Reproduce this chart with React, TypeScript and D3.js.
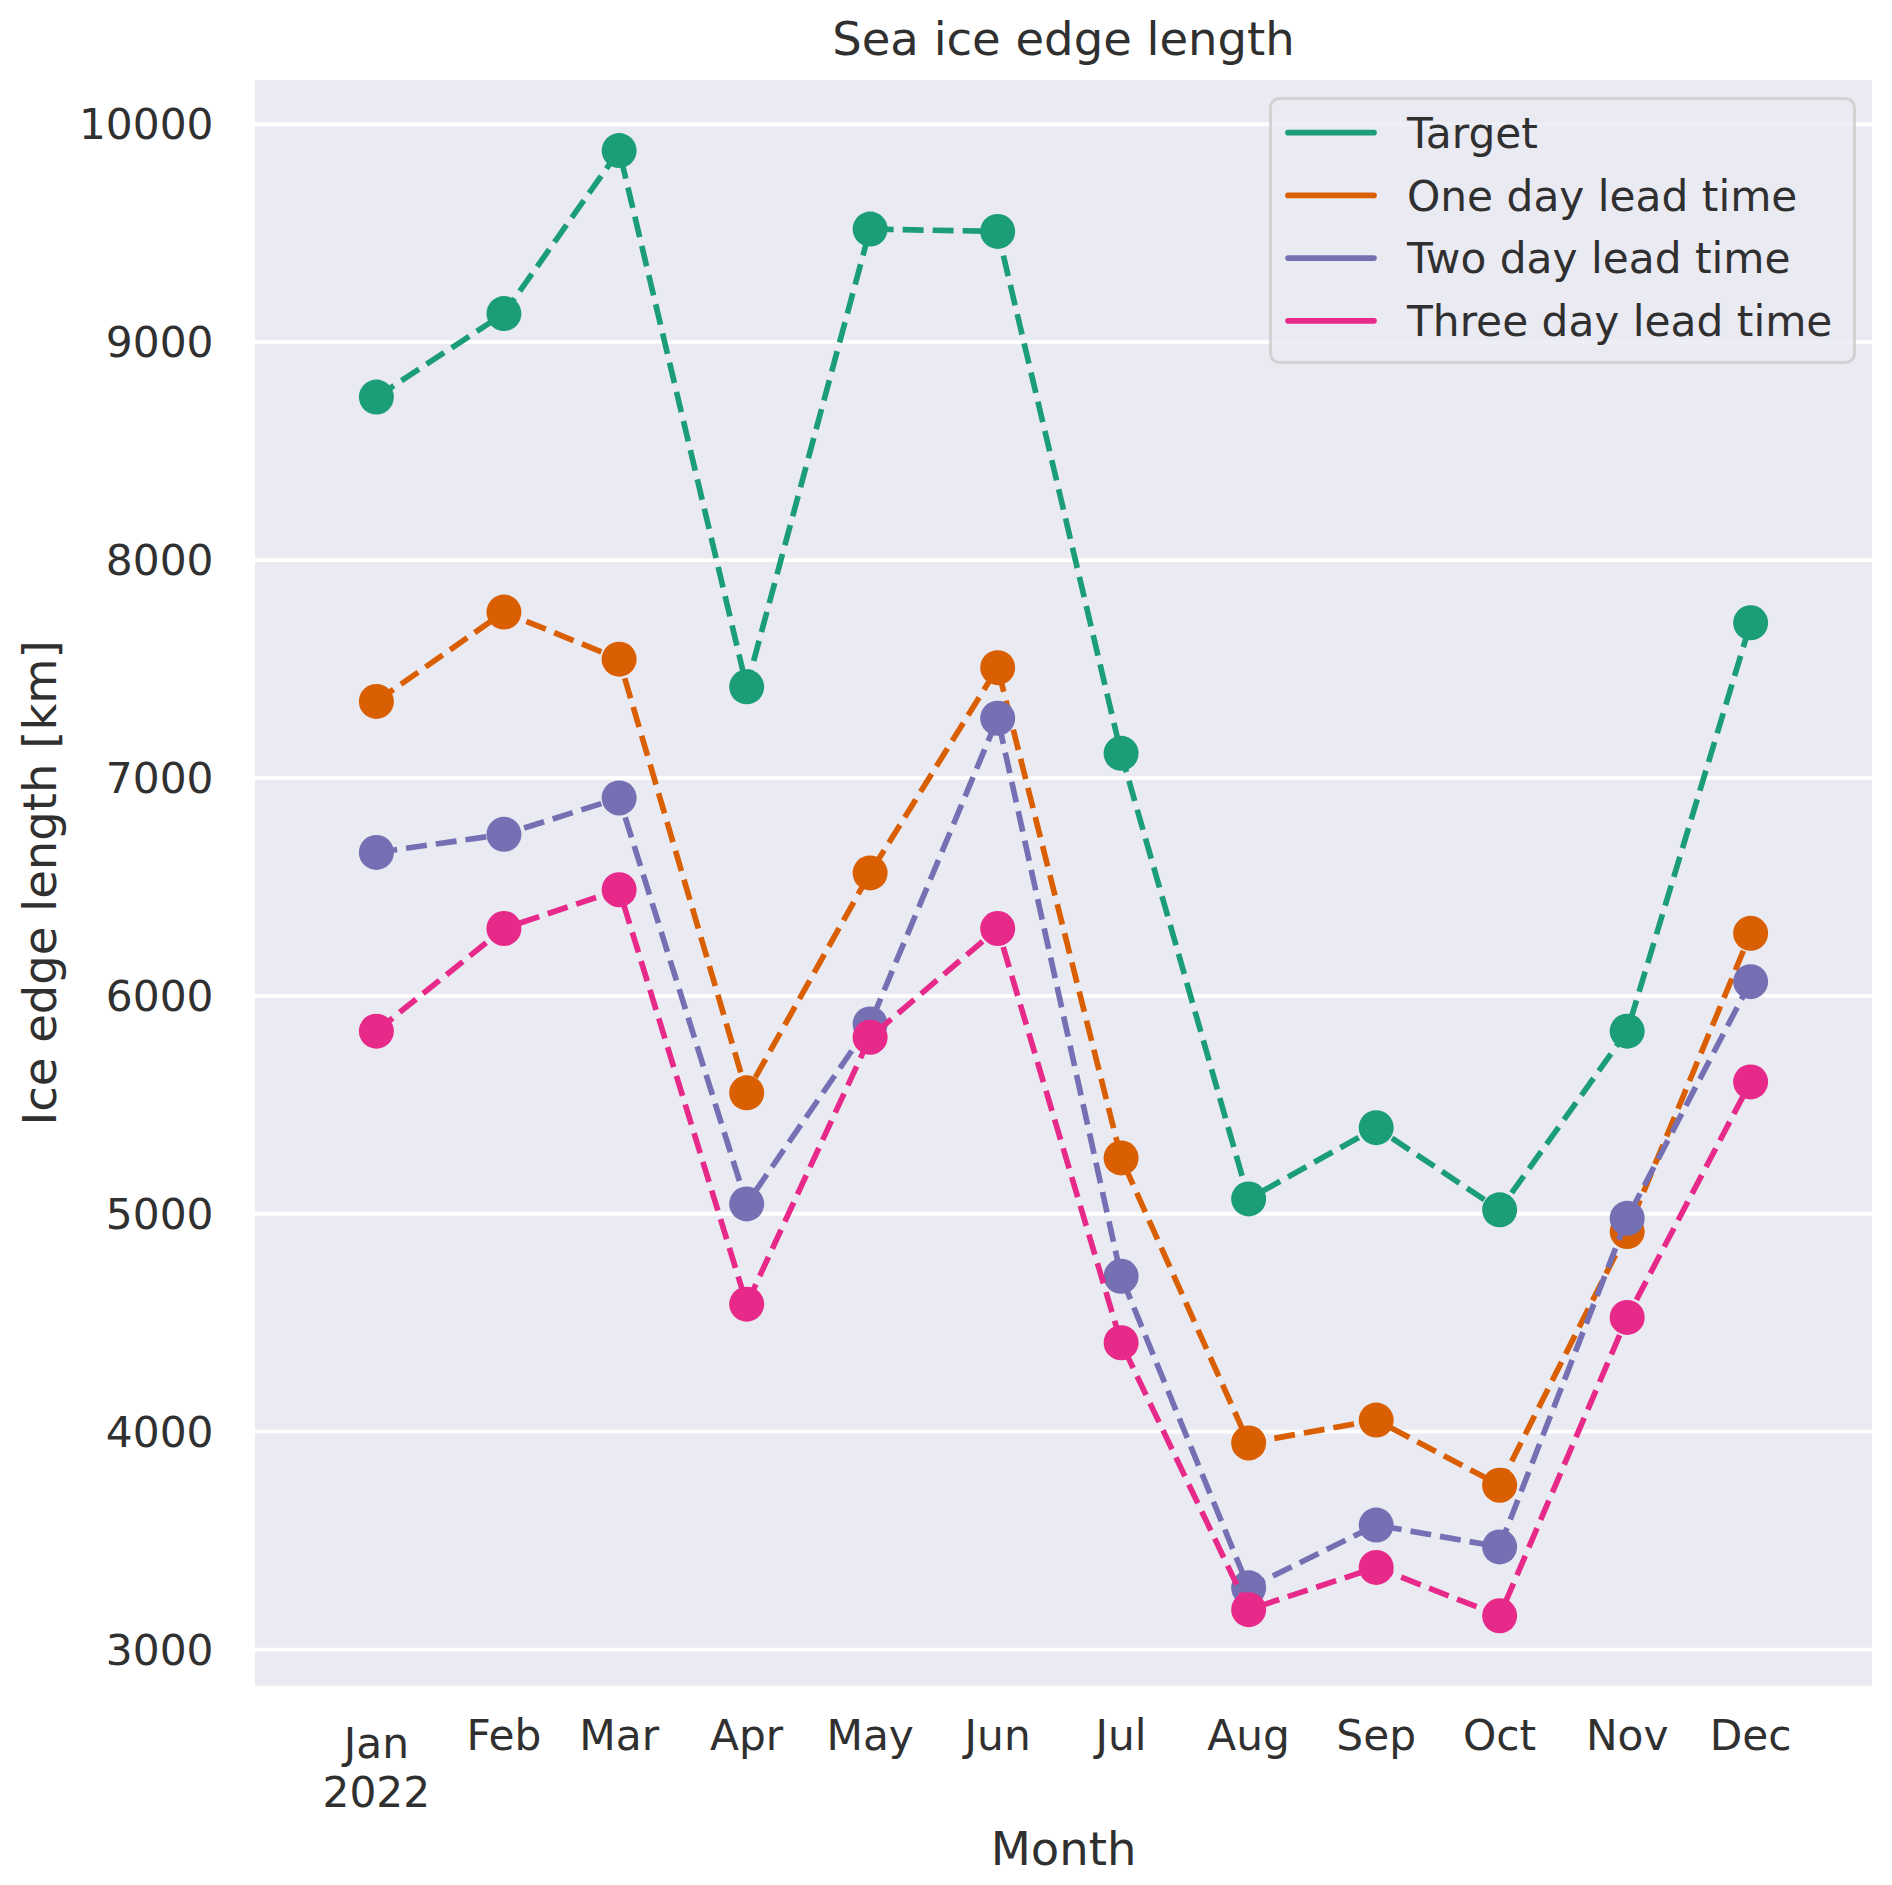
import React from "react";
import * as d3 from "d3";

const months = ["Jan", "Feb", "Mar", "Apr", "May", "Jun", "Jul", "Aug", "Sep", "Oct", "Nov", "Dec"];
const year = 2022;

const target = [8748, 9131, 9879, 7418, 9519, 9508, 7113, 5068, 5395, 5018, 5838, 7712];
const oneDay = [7351, 7761, 7545, 5555, 6564, 7506, 5256, 3948, 4053, 3754, 4918, 6287];
const twoDay = [6658, 6741, 6908, 5045, 5871, 7274, 4713, 3283, 3571, 3471, 4979, 6065];
const threeDay = [5838, 6309, 6487, 4585, 5810, 6309, 4408, 3183, 3377, 3155, 4524, 5605];

const seriesNames = ["Target", "One day lead time", "Two day lead time", "Three day lead time"];
const seriesColors = ["#1b9e77", "#d95f02", "#7570b3", "#e7298a"];
const seriesValues = [target, oneDay, twoDay, threeDay];

const yTicks = [3000, 4000, 5000, 6000, 7000, 8000, 9000, 10000];

const W = 1892;
const H = 1885;
const L = 255, R = 1872, T = 80, B = 1685.7;
const FONT = "'DejaVu Sans', sans-serif";
const TXT = "#303030";
const TICK_FS = 42.3;
const LABEL_FS = 46.5;

export default function App() {
  const dates = months.map((_, i) => new Date(year, i, 1));
  const x = d3
    .scaleTime()
    .domain([new Date(year - 1, 11, 2, 12), new Date(year, 11, 30, 12)])
    .range([L, R]);
  const y = d3.scaleLinear().domain([2834, 10203]).range([B, T]);

  const line = d3
    .line<number>()
    .x((_, i) => x(dates[i]))
    .y((v) => y(v));

  const lw = 5.66;

  return (
    <div style={{ position: "absolute", left: 0, top: 0 }}>
      <svg width={W} height={H} viewBox={`0 0 ${W} ${H}`} style={{ display: "block", background: "#ffffff" }}>
        <rect x={L} y={T} width={R - L} height={B - T} fill="#eaeaf2" />
        {yTicks.map((t) => (
          <line key={"g" + t} x1={L} x2={R} y1={y(t)} y2={y(t)} stroke="#ffffff" strokeWidth={3.8} />
        ))}
        {yTicks.map((t) => (
          <text
            key={"yt" + t}
            x={213.5}
            y={y(t)}
            dy="0.36em"
            textAnchor="end"
            fontFamily={FONT}
            fontSize={TICK_FS}
            fill={TXT}
          >
            {t}
          </text>
        ))}
        {months.map((m, i) => {
          const cx = x(dates[i]);
          if (i === 0) {
            return (
              <text key={"xt" + m} x={cx} y={1758} textAnchor="middle" fontFamily={FONT} fontSize={TICK_FS} fill={TXT}>
                <tspan x={cx}>{m}</tspan>
                <tspan x={cx} y={1806.5}>{year}</tspan>
              </text>
            );
          }
          return (
            <text key={"xt" + m} x={cx} y={1749.5} textAnchor="middle" fontFamily={FONT} fontSize={TICK_FS} fill={TXT}>
              {m}
            </text>
          );
        })}
        {seriesValues.map((vals, s) => (
          <g key={"s" + s}>
            <path
              d={line(vals) || ""}
              fill="none"
              stroke={seriesColors[s]}
              strokeWidth={lw}
              strokeDasharray={`${3.7 * lw} ${1.6 * lw}`}
              strokeLinejoin="round"
            />
            {vals.map((v, i) => (
              <circle key={i} cx={x(dates[i])} cy={y(v)} r={17.5} fill={seriesColors[s]} />
            ))}
          </g>
        ))}
        <text x={(L + R) / 2} y={55} textAnchor="middle" fontFamily={FONT} fontSize={LABEL_FS} fill={TXT}>
          Sea ice edge length
        </text>
        <text x={(L + R) / 2} y={1865} textAnchor="middle" fontFamily={FONT} fontSize={LABEL_FS} fill={TXT}>
          Month
        </text>
        <text
          transform={`translate(56,${(T + B) / 2}) rotate(-90)`}
          textAnchor="middle"
          fontFamily={FONT}
          fontSize={LABEL_FS}
          fill={TXT}
        >
          Ice edge length [km]
        </text>
        <g>
          <rect
            x={1270.5}
            y={98.5}
            width={584}
            height={264}
            rx={9}
            fill="#eaeaf2"
            fillOpacity={0.8}
            stroke="#cccccc"
            strokeOpacity={0.8}
            strokeWidth={3}
          />
          {seriesNames.map((n, i) => {
            const ly = 132.7 + i * 62.7;
            return (
              <g key={"lg" + i}>
                <line x1={1288} x2={1374} y1={ly} y2={ly} stroke={seriesColors[i]} strokeWidth={lw} strokeLinecap="round" />
                <text x={1407} y={ly + 15.3} fontFamily={FONT} fontSize={TICK_FS} fill={TXT}>
                  {n}
                </text>
              </g>
            );
          })}
        </g>
      </svg>
    </div>
  );
}
